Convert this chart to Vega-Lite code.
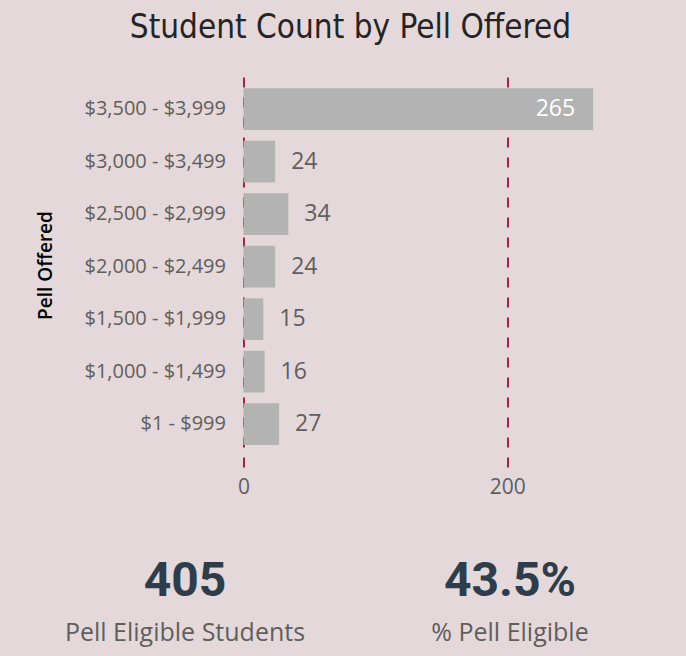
{
  "$schema": "https://vega.github.io/schema/vega-lite/v6.json",
  "background": "#e4d8db",
  "padding": {"left": 36, "top": 12, "right": 0, "bottom": 12},
  "title": {
    "text": "Student Count by Pell Offered",
    "font": "DejaVu Sans Condensed",
    "fontSize": 33,
    "fontWeight": "normal",
    "color": "#252423",
    "anchor": "middle",
    "dx": -25,
    "offset": 32
  },
  "datasets": {
    "bars": [
      {"range": "$3,500 - $3,999", "count": 265},
      {"range": "$3,000 - $3,499", "count": 24},
      {"range": "$2,500 - $2,999", "count": 34},
      {"range": "$2,000 - $2,499", "count": 24},
      {"range": "$1,500 - $1,999", "count": 15},
      {"range": "$1,000 - $1,499", "count": 16},
      {"range": "$1 - $999", "count": 27}
    ],
    "kpi": [
      {"metric": "Pell Eligible Students", "value": "405"},
      {"metric": "% Pell Eligible", "value": "43.5%"}
    ]
  },
  "center": true,
  "spacing": 34,
  "vconcat": [
    {
      "width": 376,
      "height": 390,
      "data": {"name": "bars"},
      "encoding": {
        "y": {
          "field": "range",
          "type": "nominal",
          "sort": null,
          "title": "Pell Offered",
          "scale": {"paddingInner": 0.206, "paddingOuter": 0.318, "align": 0.34},
          "axis": {
            "domain": false,
            "ticks": false,
            "labelPadding": 18,
            "labelFont": "Open Sans",
            "labelFontSize": 20,
            "labelColor": "#605e5c",
            "titleFont": "Open Sans",
            "titleFontSize": 19,
            "titleFontWeight": 600,
            "titleColor": "#000000",
            "titlePadding": 28,
            "titleY": 188
          }
        }
      },
      "layer": [
        {
          "mark": {"type": "bar", "color": "#b3b3b3"},
          "encoding": {
            "x": {
              "field": "count",
              "type": "quantitative",
              "title": null,
              "scale": {"domain": [0, 285], "nice": false},
              "axis": {
                "values": [0, 200],
                "domain": false,
                "ticks": false,
                "grid": true,
                "gridColor": "#a8234a",
                "gridWidth": 2,
                "gridDash": [10, 10],
                "labelFlush": false,
                "labelPadding": 9,
                "labelFont": "Open Sans",
                "labelFontSize": 21,
                "labelColor": "#605e5c"
              }
            }
          }
        },
        {
          "transform": [{"filter": "datum.count < 200"}],
          "mark": {"type": "text", "align": "left", "dx": 16, "font": "Open Sans", "fontSize": 23, "color": "#605e5c"},
          "encoding": {
            "x": {"field": "count", "type": "quantitative"},
            "text": {"field": "count", "type": "quantitative"}
          }
        },
        {
          "transform": [{"filter": "datum.count >= 200"}],
          "mark": {"type": "text", "align": "right", "dx": -18, "font": "Open Sans", "fontSize": 23, "color": "#ffffff"},
          "encoding": {
            "x": {"field": "count", "type": "quantitative"},
            "text": {"field": "count", "type": "quantitative"}
          }
        }
      ]
    },
    {
      "data": {"name": "kpi"},
      "spacing": 0,
      "hconcat": [
        {
          "width": 72,
          "height": 120,
          "transform": [{"filter": "datum.metric == 'Pell Eligible Students'"}],
          "layer": [
            {
              "mark": {"type": "text", "baseline": "alphabetic", "dy": 5, "font": "Roboto", "fontWeight": "bold", "fontSize": 48, "color": "#2e3d49"},
              "encoding": {"text": {"field": "value"}}
            },
            {
              "mark": {"type": "text", "baseline": "alphabetic", "dy": 50, "font": "Open Sans", "fontSize": 25, "color": "#605e5c"},
              "encoding": {"text": {"field": "metric"}}
            }
          ]
        },
        {
          "width": 408,
          "height": 120,
          "transform": [{"filter": "datum.metric == '% Pell Eligible'"}],
          "layer": [
            {
              "mark": {"type": "text", "baseline": "alphabetic", "dy": 5, "font": "Roboto", "fontWeight": "bold", "fontSize": 48, "color": "#2e3d49"},
              "encoding": {"text": {"field": "value"}}
            },
            {
              "mark": {"type": "text", "baseline": "alphabetic", "dy": 50, "font": "Open Sans", "fontSize": 25, "color": "#605e5c"},
              "encoding": {"text": {"field": "metric"}}
            }
          ]
        }
      ]
    }
  ],
  "config": {
    "view": {"stroke": null}
  }
}
